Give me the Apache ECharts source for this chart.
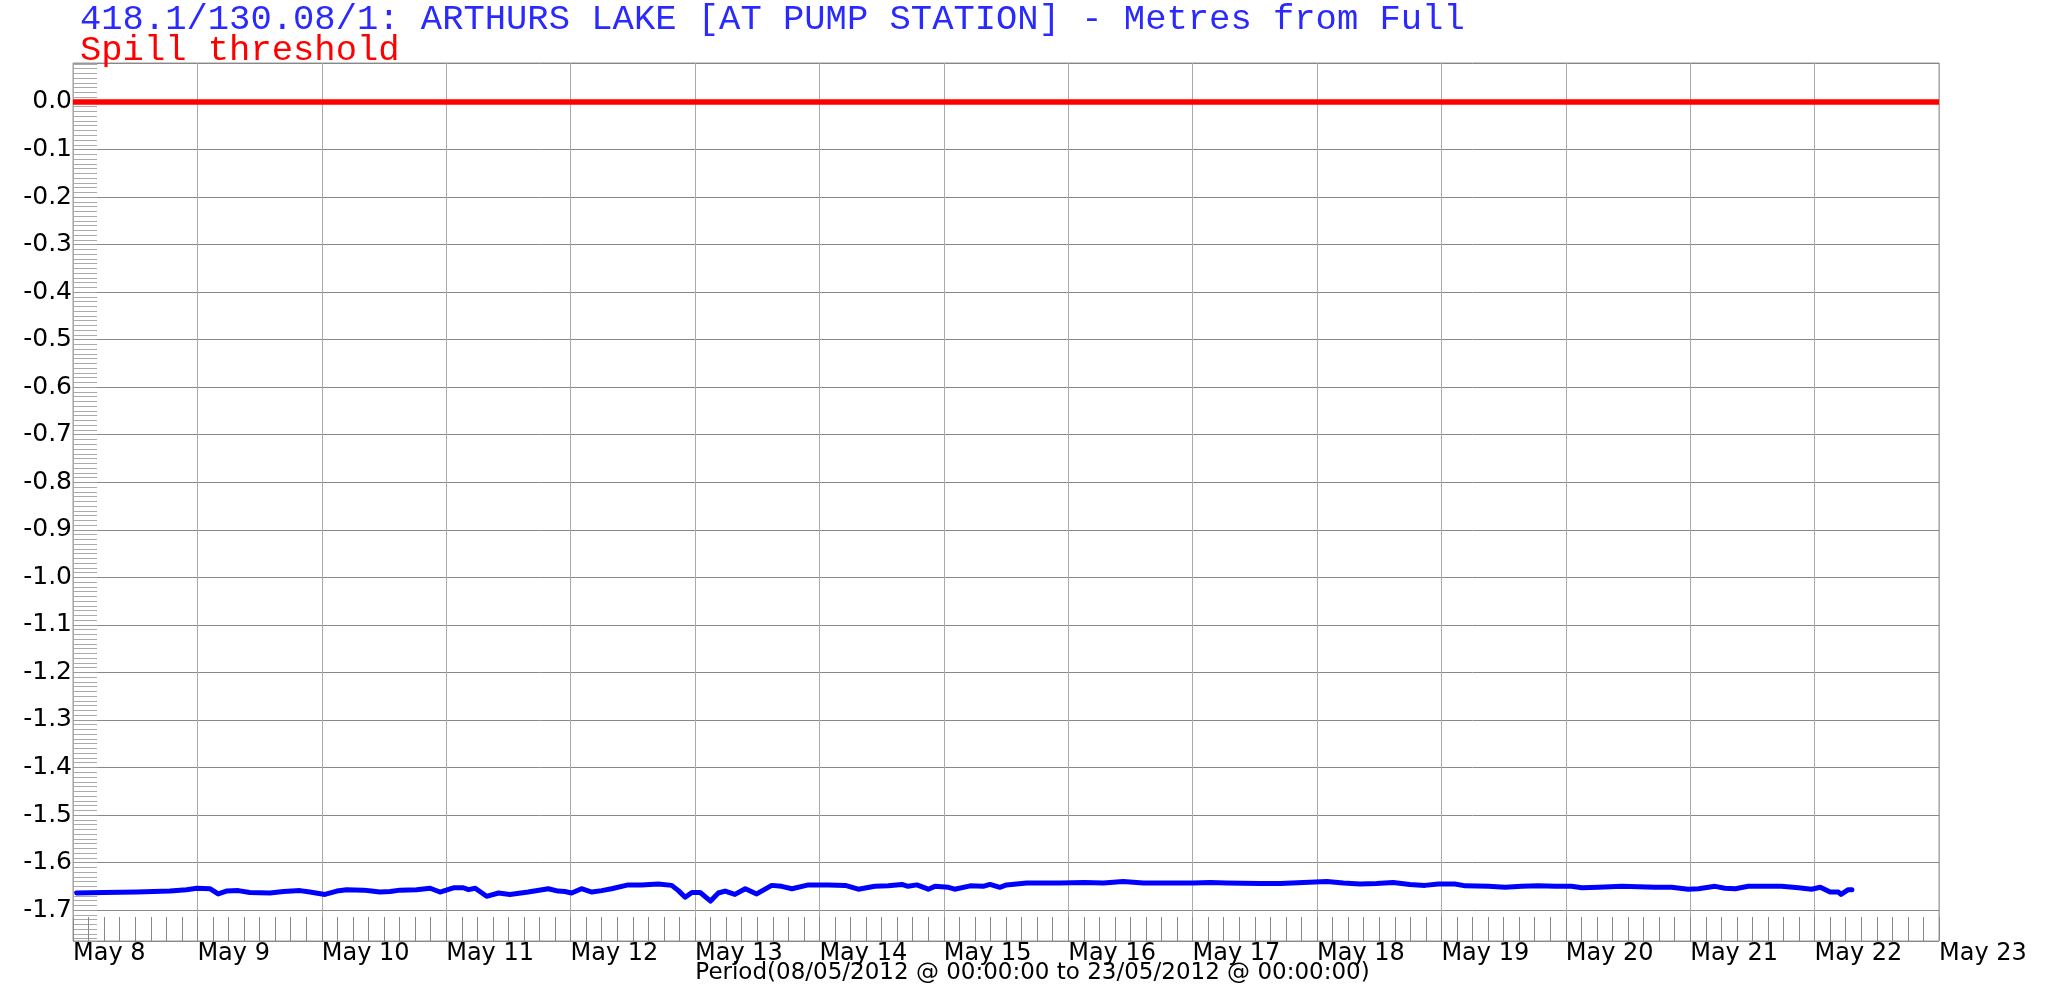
<!DOCTYPE html>
<html>
<head>
<meta charset="utf-8">
<script src="https://cdn.jsdelivr.net/npm/echarts@6/dist/echarts.min.js"></script>
<style>
  html, body { margin: 0; padding: 0; background: #fff; }
  #chart { width: 2065px; height: 985px; }
</style>
</head>
<body>
<div id="chart"></div>
<script>
// hours since 08/05/2012 00:00
const hours = [
  0.7, 5.9, 12.3, 18.7, 21.9, 23.9, 26.4, 28.0, 29.6, 31.9, 34.1, 38.0, 40.6, 43.8, 45.7, 48.6,
  50.9, 52.8, 56.0, 57.6, 59.2, 61.2, 63.1, 66.3, 68.9, 70.8, 73.4, 75.3, 76.3, 77.6, 79.8, 82.1,
  84.3, 87.8, 91.7, 93.6, 94.9, 96.2, 98.1, 100.1, 102.0, 103.9, 107.1, 109.7, 112.9, 115.5,
  116.8, 118.1, 119.4, 121.0, 123.0, 124.5, 125.8, 127.7, 129.7, 131.9, 134.8, 136.7, 138.7,
  141.9, 145.7, 149.0, 151.5, 154.7, 157.3, 159.9, 161.1, 162.8, 165.0, 166.3, 168.9, 170.1,
  173.1, 175.6, 176.9, 178.8, 180.1, 184.0, 190.4, 195.1, 198.8, 202.6, 206.5, 209.7, 212.9,
  216.1, 219.4, 222.6, 229.0, 232.9, 237.4, 241.9, 245.1, 248.3, 251.5, 254.7, 257.9, 260.8,
  263.4, 266.6, 268.6, 273.1, 276.3, 279.5, 282.7, 286.0, 289.1, 291.1, 294.3, 298.8, 302.0,
  305.2, 308.4, 311.6, 313.6, 316.8, 318.7, 320.7, 323.2, 326.4, 329.6, 332.9, 335.4, 337.1,
  339.0, 340.6, 341.1, 342.5, 343.2
];
// metres from full
const levels = [
  -1.664, -1.663, -1.662, -1.660, -1.657, -1.654, -1.655, -1.666, -1.660, -1.659, -1.663, -1.664, -1.661, -1.659, -1.662, -1.667,
  -1.660, -1.657, -1.658, -1.660, -1.662, -1.661, -1.658, -1.657, -1.654, -1.662, -1.653, -1.653, -1.657, -1.654, -1.671, -1.664,
  -1.667, -1.662, -1.655, -1.660, -1.661, -1.664, -1.655, -1.662, -1.659, -1.655, -1.647, -1.647, -1.645, -1.648,
  -1.659, -1.673, -1.663, -1.663, -1.681, -1.664, -1.660, -1.667, -1.655, -1.666, -1.648, -1.650, -1.655,
  -1.647, -1.647, -1.648, -1.656, -1.650, -1.649, -1.646, -1.650, -1.647, -1.656, -1.650, -1.652, -1.656,
  -1.649, -1.650, -1.646, -1.652, -1.647, -1.643, -1.643, -1.642, -1.643, -1.640, -1.643, -1.643, -1.643,
  -1.643, -1.642, -1.643, -1.644, -1.644, -1.642, -1.640, -1.643, -1.645, -1.644, -1.642, -1.646, -1.648,
  -1.645, -1.645, -1.649, -1.650, -1.652, -1.650, -1.649, -1.650, -1.650, -1.653, -1.652, -1.650, -1.651,
  -1.652, -1.652, -1.656, -1.655, -1.650, -1.654, -1.655, -1.650, -1.650, -1.650, -1.653, -1.656, -1.652,
  -1.662, -1.662, -1.667, -1.657, -1.657
];
const thresholdHours = [0, 360];
const thresholdLevel = [0, 0];
const dayLabels = ['May 8', 'May 9', 'May 10', 'May 11', 'May 12', 'May 13', 'May 14', 'May 15',
  'May 16', 'May 17', 'May 18', 'May 19', 'May 20', 'May 21', 'May 22', 'May 23'];

const chart = echarts.init(document.getElementById('chart'));

chart.setOption({
  animation: false,
  backgroundColor: '#fff',
  title: [
    {
      text: '418.1/130.08/1: ARTHURS LAKE [AT PUMP STATION] - Metres from Full',
      left: 75, top: -3,
      textStyle: { fontFamily: 'Liberation Mono', fontSize: 35.5, fontWeight: 'normal', color: '#2a2aff' }
    },
    {
      text: 'Spill threshold',
      left: 75, top: 28,
      textStyle: { fontFamily: 'Liberation Mono', fontSize: 35.5, fontWeight: 'normal', color: '#ff0000' }
    },
    {
      text: 'Period(08/05/2012 @ 00:00:00 to 23/05/2012 @ 00:00:00)',
      left: 'center', bottom: -5,
      textStyle: { fontFamily: 'DejaVu Sans', fontSize: 23, fontWeight: 'normal', color: '#000' }
    }
  ],
  grid: {
    left: 73, top: 63, right: 126, bottom: 44,
    show: true, borderColor: '#999', borderWidth: 1
  },
  xAxis: {
    type: 'value',
    min: 0, max: 360, interval: 24,
    axisLine: { show: false, onZero: false },
    axisTick: { show: true, inside: true, length: 24, lineStyle: { color: '#888' } },
    minorTick: { show: true, splitNumber: 8, length: 24, lineStyle: { color: '#888' } },
    splitLine: { show: true, lineStyle: { color: '#aaa', width: 1 } },
    axisLabel: {
      align: 'left', margin: 1,
      fontFamily: 'DejaVu Sans', fontSize: 24, color: '#000',
      formatter: v => dayLabels[Math.round(v / 24)]
    }
  },
  yAxis: {
    type: 'value',
    min: -1.765, max: 0.082, splitNumber: 18,
    axisLine: { show: false, onZero: false },
    axisTick: { show: true, inside: true, length: 24, lineStyle: { color: '#999' } },
    minorTick: { show: true, splitNumber: 10, length: 24, lineStyle: { color: '#aaa' } },
    splitLine: { show: true, lineStyle: { color: '#888', width: 1 } },
    axisLabel: {
      margin: 1, showMinLabel: false, showMaxLabel: false,
      fontFamily: 'DejaVu Sans', fontSize: 25, color: '#000',
      formatter: v => Math.abs(v * 10 - Math.round(v * 10)) < 1e-6 ? v.toFixed(1) : ''
    }
  },
  series: [
    {
      name: 'Spill threshold',
      type: 'line',
      data: thresholdHours.map((h, i) => [h, thresholdLevel[i]]),
      showSymbol: false,
      lineStyle: { color: '#ff0000', width: 5.5 },
      z: 3
    },
    {
      name: 'Metres from Full',
      type: 'line',
      data: hours.map((h, i) => [h, levels[i]]),
      showSymbol: false,
      lineStyle: { color: '#0000ff', width: 5, cap: 'round', join: 'round' },
      z: 4
    }
  ]
});
</script>
</body>
</html>
